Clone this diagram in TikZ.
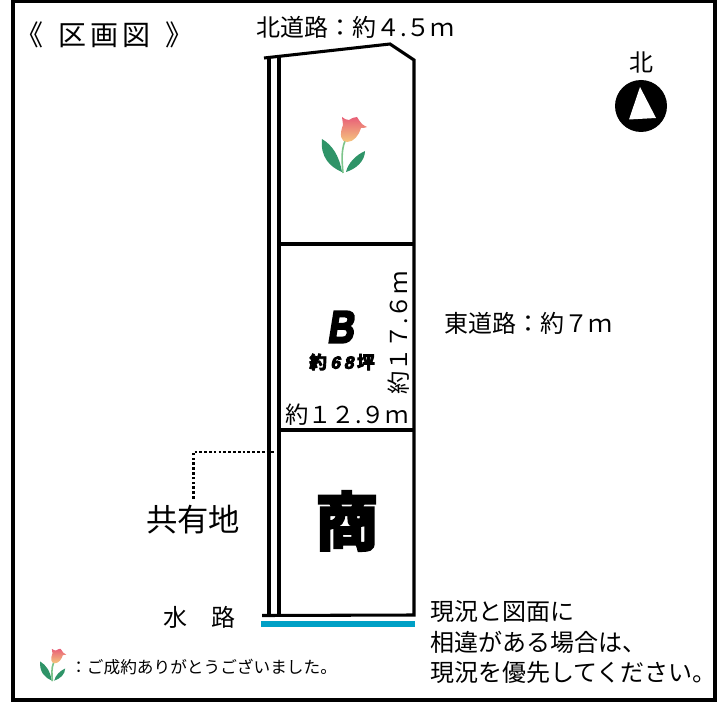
\documentclass[tikz,border=0pt]{standalone}
\usepackage{fontspec}
\setmainfont{Noto Sans CJK JP}
\newfontfamily\heavyjp[FakeBold=5]{Noto Sans CJK JP Bold}
\newfontfamily\heavylat[FakeBold=5,FakeSlant=0.2]{Liberation Sans Bold}
\usepackage{tikz}
\usetikzlibrary{shapes,arrows,positioning,calc}
\definecolor{waterblue}{HTML}{00A0C6}
\definecolor{leafgreen}{HTML}{2F9468}
\definecolor{stemgreen}{HTML}{7CC48A}
\definecolor{petaltop}{HTML}{E85F78}
\definecolor{petalbottom}{HTML}{F5C67E}

\begin{document}
\begin{tikzpicture}[
    x=0.75pt, y=-0.75pt,
    label/.style={inner sep=0pt, anchor=west, font=\fontsize{18}{18}\selectfont},
    lotline/.style={line width=2.3pt, line join=miter},
    tulip/.pic={
        \fill[leafgreen] (-22,-6) .. controls (-12,0) and (-5,10) .. (-2,27) .. controls (-14,22) and (-24,12) .. cycle;
        \fill[leafgreen] (21,6) .. controls (21,16) and (12,24) .. (2,27) .. controls (4,18) and (12,10) .. cycle;
        \draw[stemgreen, line width=1.2pt] (1,-4) .. controls (-3,6) and (-2,16) .. (-1,28);
        \shade[top color=petaltop, bottom color=petalbottom]
            (3,-3) .. controls (-3,-3) and (-5,-10) .. (-1,-20) .. controls (-1,-23) and (-2,-26) .. (-2,-28)
            .. controls (0,-26) and (3,-25) .. (5,-25) .. controls (8,-27) and (11,-28) .. (13,-28)
            .. controls (15,-25) and (16,-23) .. (18,-21) .. controls (19,-20) and (21,-19) .. (23,-18)
            .. controls (21,-17) and (19,-17) .. (17,-17) .. controls (15,-10) and (10,-3) .. cycle;
    }
]
\useasboundingbox (0,0) rectangle (723,702);

% Frame
\draw[line width=2.4pt] (13,1) rectangle (715,700);

% Title
\node[label, font=\fontsize{21}{21}\selectfont] (title) at (15,35) {《\hspace{0.55em}区\hspace{0.14em}画\hspace{0.14em}図\hspace{0.52em}》};
\node[label] (north road) at (256,27) {北道路：約４.５ｍ};
\node[label] (east road) at (444,323) {東道路：約７ｍ};

% North mark
\node[label, anchor=center] (north) at (641,62) {北};
\node[circle, fill=black, minimum size=39pt, inner sep=0pt] (mark) at (641,106) {};
\fill[white] (640,87) -- (656,118) -- (629,119.5) -- cycle;

% Lot
\draw[lotline] (264,58) -- (390,44) -- (414,60) -- (414,615) -- (262,615.5);
\draw[lotline] (269,58) -- (269,615);
\draw[lotline] (279,57) -- (279,615);
\draw[lotline] (279,244) -- (414,244);
\draw[lotline] (279,430) -- (414,430);
\fill[waterblue] (261,621) rectangle (415,626.5);

% Lot texts
\pic at (344,145) {tulip};
\node[inner sep=0pt, xscale=0.8, font=\heavylat\fontsize{34}{34}\selectfont] (lot) at (340,327) {B};
\node[inner sep=0pt, font=\heavyjp\fontsize{13.2}{14}\selectfont] (area) at (342,362) {約{\heavylat\hspace{0.2em}6\hspace{0.2em}8\hspace{0.2em}}坪};
\node[label, rotate=90, font=\fontsize{17.5}{18}\selectfont] (depth) at (399,395) {約１７.６ｍ};
\node[label, font=\fontsize{17.5}{18}\selectfont] (width) at (285,415) {約１２.９ｍ};
\node[inner sep=0pt, font=\heavyjp\fontsize{47}{47}\selectfont] (shop) at (347,521) {商};

% Shared land
\node[label, font=\fontsize{23.5}{24}\selectfont] (shared) at (146,520) {共有地};
\coordinate (shared end) at (274,452);
\draw[line width=2pt, dash pattern=on 2pt off 1.6pt] ([yshift=5pt]shared.north) |- (shared end);

% Water way
\node[label] (water) at (163,617) {水\hspace{1em}路};

% Note
\node[label] (note1) at (430,612) {現況と図面に};
\node[label] (note2) at (430,642) {相違がある場合は、};
\node[label] (note3) at (430,672) {現況を優先してください。};

% Legend
\pic[scale=0.58] at (53,665) {tulip};
\node[label, font=\fontsize{12.5}{13}\selectfont] (legend) at (70,667) {：ご成約ありがとうございました。};

\end{tikzpicture}
\end{document}
